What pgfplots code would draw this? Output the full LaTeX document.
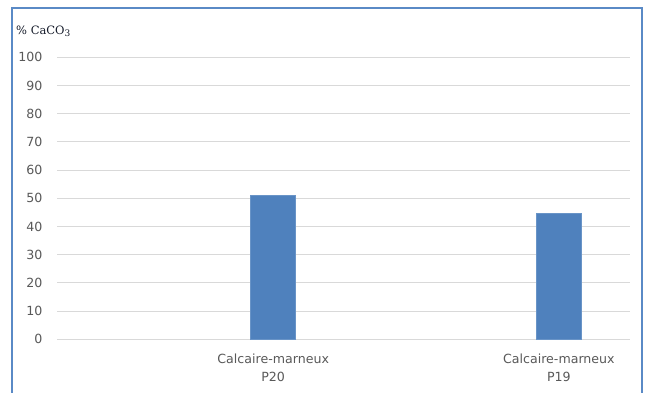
\documentclass[border=0pt]{standalone}
\usepackage{pgfplots}
\pgfplotsset{compat=1.18}
\usepackage{fontspec}
\setmainfont{DejaVu Sans}
\newfontfamily\unitfont{DejaVu Serif}
\definecolor{barblue}{HTML}{4F81BD}
\definecolor{frameblue}{HTML}{5A8AC6}
\definecolor{gridgrey}{HTML}{D9D9D9}
\definecolor{ticktext}{HTML}{595959}
\definecolor{titletext}{HTML}{151B2A}
\begin{document}
\begin{tikzpicture}
\useasboundingbox (0pt,0pt) rectangle (649pt,392pt);
\fill[white] (0pt,0pt) rectangle (649pt,392pt);
% outer chart frame, open past the lower edge
\begin{scope}
\clip (0pt,0pt) rectangle (649pt,392pt);
\draw[frameblue, line width=2pt] (11.7pt,-10pt) rectangle (641.5pt,383.7pt);
\end{scope}
% unit label above the value axis
\node[anchor=base west, inner sep=0pt, text=titletext, font=\unitfont\fontsize{11.5}{13}\selectfont]
  at (16pt,357pt) {\% CaCO{\fontsize{9}{10}\selectfont\raisebox{-1.5pt}{3}}};
\begin{axis}[
  at={(57pt,52.7pt)}, anchor=south west,
  scale only axis, width=573pt, height=282pt,
  xmin=0, xmax=573, ymin=0, ymax=100,
  ytick={0,10,...,100},
  xtick={216.2,501.9},
  xticklabels={Calcaire-marneux\\P20, Calcaire-marneux\\P19},
  major tick length=0pt,
  axis line style={draw=none},
  ymajorgrids,
  grid style={gridgrey, line width=1pt},
  yticklabel style={anchor=east, inner sep=0pt, xshift=-14.3pt, text=ticktext,
    font=\fontsize{12.6}{15}\selectfont},
  xticklabel style={anchor=north, inner sep=0pt, yshift=-14.5pt, text=ticktext,
    align=center, font=\fontsize{12.6}{18.4}\selectfont},
  /pgf/number format/assume math mode=true,
  ybar, bar width=45pt,
  clip=false,
]
\addplot[fill=barblue, draw=barblue!85!white, line width=0.6pt]
  coordinates {(216.2,51) (501.9,44.7)};
\end{axis}
\end{tikzpicture}
\end{document}
